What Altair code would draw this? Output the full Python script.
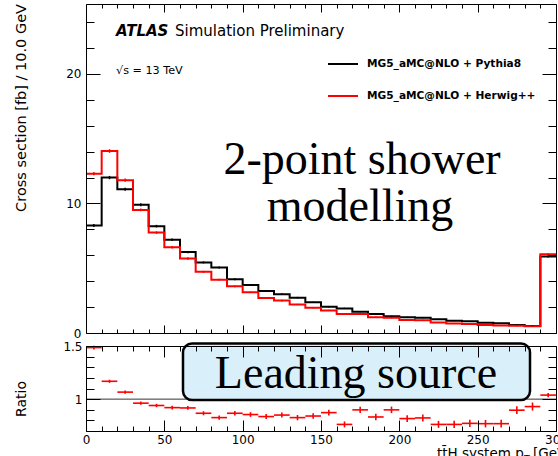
import altair as alt
import pandas as pd

# ---- binned cross section, 10 GeV bins, last bin is the overflow ----
bin_low = [0, 10, 20, 30, 40, 50, 60, 70, 80, 90, 100, 110, 120, 130, 140,
           150, 160, 170, 180, 190, 200, 210, 220, 230, 240, 250, 260, 270, 280, 290]
pythia8 = [8.3, 12.0, 11.1, 9.9, 8.25, 7.2, 6.25, 5.45, 5.05, 4.15, 3.7, 3.25, 3.0, 2.73, 2.37,
           2.02, 1.9, 1.65, 1.47, 1.29, 1.22, 1.18, 1.06, 0.95, 0.9, 0.8, 0.75, 0.62, 0.55, 5.9]
herwig = [12.3, 14.05, 11.8, 9.5, 7.75, 6.62, 5.75, 4.72, 4.12, 3.6, 3.14, 2.7, 2.5, 2.2, 1.95,
          1.74, 1.46, 1.47, 1.22, 1.17, 1.0, 0.98, 0.81, 0.73, 0.69, 0.62, 0.58, 0.56, 0.52, 6.08]
pythia8_err = [0.12, 0.13, 0.12, 0.11, 0.1, 0.09, 0.09, 0.08, 0.08, 0.07, 0.07, 0.06, 0.06, 0.06, 0.05,
               0.05, 0.05, 0.05, 0.04, 0.04, 0.04, 0.04, 0.04, 0.04, 0.03, 0.03, 0.03, 0.03, 0.03, 0.08]
herwig_err = [0.13, 0.14, 0.12, 0.11, 0.1, 0.09, 0.09, 0.08, 0.07, 0.07, 0.06, 0.06, 0.06, 0.05, 0.05,
              0.05, 0.04, 0.04, 0.04, 0.04, 0.04, 0.04, 0.03, 0.03, 0.03, 0.03, 0.03, 0.03, 0.03, 0.08]

# Herwig++ / Pythia8 ratio per bin
ratio = [1.485, 1.168, 1.066, 0.962, 0.94, 0.92, 0.917, 0.867, 0.826, 0.867, 0.855, 0.836, 0.85, 0.826, 0.841,
         0.873, 0.762, 0.899, 0.832, 0.899, 0.817, 0.823, 0.762, 0.762, 0.772, 0.769, 0.769, 0.896, 0.93, 1.038]
ratio_err = [0.018, 0.015, 0.015, 0.016, 0.016, 0.017, 0.018, 0.019, 0.02, 0.021, 0.022, 0.023, 0.024, 0.025, 0.026,
             0.027, 0.028, 0.029, 0.03, 0.031, 0.032, 0.033, 0.033, 0.034, 0.035, 0.035, 0.036, 0.037, 0.038, 0.02]

gen_names = ["MG5_aMC@NLO + Pythia8", "MG5_aMC@NLO + Herwig++"]
gen_colors = ["#000000", "#ff0000"]
bin_width = 10

# axis ticks and labels
x_ticks = [0, 10, 20, 30, 40, 50, 60, 70, 80, 90, 100, 110, 120, 130, 140, 150,
           160, 170, 180, 190, 200, 210, 220, 230, 240, 250, 260, 270, 280, 290, 300]
x_labels = [0, 50, 100, 150, 200, 250, 300]
y_upper_ticks = [0, 2, 4, 6, 8, 10, 12, 14, 16, 18, 20, 22, 24]
y_upper_labels = [0, 10, 20]
y_ratio_ticks = [0.7, 0.8, 0.9, 1.0, 1.1, 1.2, 1.3, 1.4, 1.5]
y_ratio_labels = [1, 1.5]
unity = [1.0]

# ---- tables ----
bins = pd.DataFrame({
    "lo": bin_low,
    "hi": [b + bin_width for b in bin_low],
    "mid": [b + bin_width / 2 for b in bin_low],
    "p_lo": [v - e for v, e in zip(pythia8, pythia8_err)],
    "p_hi": [v + e for v, e in zip(pythia8, pythia8_err)],
    "h_lo": [v - e for v, e in zip(herwig, herwig_err)],
    "h_hi": [v + e for v, e in zip(herwig, herwig_err)],
    "ratio": ratio,
    "r_lo": [v - e for v, e in zip(ratio, ratio_err)],
    "r_hi": [v + e for v, e in zip(ratio, ratio_err)],
})

step_rows = []
for name, vals in zip(gen_names, [pythia8, herwig]):
    for lo, v in zip(bin_low, vals):
        step_rows.append({"edge": lo, "xsec": v, "gen": name})
    step_rows.append({"edge": bin_low[-1] + bin_width, "xsec": vals[-1], "gen": name})
steps = pd.DataFrame(step_rows)
unity_df = pd.DataFrame({"unity": unity})
one = pd.DataFrame({"k": [0]})

# ---- geometry: one plot area holding both pads ----
W, H = 470, 427
UPPER_BOTTOM = 329
RATIO_TOP, RATIO_BOTTOM = 342, 427
FONT = "DejaVu Sans"
SERIF = "Liberation Serif"

xs = alt.Scale(domain=[0, 300], nice=False, zero=False)
yu = alt.Scale(domain=[0, 25.4], range=[UPPER_BOTTOM, 0], nice=False, zero=False)
yr = alt.Scale(domain=[0.7, 1.5], range=[RATIO_BOTTOM, RATIO_TOP], nice=False, zero=False)


def frame_axis(orient, offset, values, major_test, major, minor):
    return alt.Axis(orient=orient, offset=offset, values=values, labels=False, ticks=True,
                    tickSize={"condition": {"test": major_test, "value": major}, "value": minor},
                    tickColor="black", tickWidth=1, domain=True, domainColor="black",
                    domainWidth=1, grid=False, title=None, zindex=1)


def label_axis(orient, values, fmt, padding):
    return alt.Axis(orient=orient, values=values, format=fmt, labels=True, ticks=False, tickSize=0,
                    domain=False, grid=False, title=None, labelFont=FONT, labelFontSize=12,
                    labelColor="black", labelPadding=padding, labelFlush=False,
                    labelOverlap=False, zindex=1)


X_MAJ = "datum.value % 50 === 0"
YU_MAJ = "datum.value % 10 === 0"
YR_MAJ = "abs(datum.value * 2 - round(datum.value * 2)) < 0.001"

# upper pad: step histograms
hist_lines = alt.Chart(steps).mark_line(interpolate="step-after", strokeWidth=2).encode(
    x=alt.X("edge:Q", scale=xs, axis=frame_axis("top", -UPPER_BOTTOM, x_ticks, X_MAJ, 8, 4)),
    y=alt.Y("xsec:Q", scale=yu, axis=label_axis("left", y_upper_labels, "d", 5)),
    color=alt.Color("gen:N", scale=alt.Scale(domain=gen_names, range=gen_colors),
                    legend=alt.Legend(title=None, orient="none", legendX=241, legendY=44,
                                      symbolType="stroke", symbolSize=900, symbolStrokeWidth=2,
                                      labelFont=FONT, labelFontWeight="bold", labelFontSize=10.6,
                                      labelColor="black", labelOffset=8, labelLimit=400,
                                      rowPadding=10)),
)

pythia_err_bars = alt.Chart(bins).mark_rule(color="#000000", strokeWidth=1.5).encode(
    x=alt.X("mid:Q", scale=xs, axis=frame_axis("bottom", -H, x_ticks, X_MAJ, 8, 4)),
    y=alt.Y("p_lo:Q", scale=yu, axis=frame_axis("right", -W, y_upper_ticks, YU_MAJ, 14, 8)),
    y2="p_hi:Q",
)

herwig_err_bars = alt.Chart(bins).mark_rule(color="#ff0000", strokeWidth=1.5).encode(
    x=alt.X("mid:Q", scale=xs, axis=frame_axis("top", -H, x_ticks, X_MAJ, 11, 5)),
    y=alt.Y("h_lo:Q", scale=yu, axis=frame_axis("left", -W, y_upper_ticks, YU_MAJ, 14, 8)),
    y2="h_hi:Q",
)

# ratio pad
unity_line = alt.Chart(unity_df).mark_rule(color="#333333", strokeWidth=1).encode(
    y=alt.Y("unity:Q", scale=yr, axis=frame_axis("left", -W, y_ratio_ticks, YR_MAJ, 14, 8)),
)

ratio_h = alt.Chart(bins).mark_rule(color="#ff0000", strokeWidth=1.6).encode(
    x=alt.X("lo:Q", scale=xs, axis=label_axis("bottom", x_labels, "d", 3)),
    x2="hi:Q",
    y=alt.Y("ratio:Q", scale=yr, axis=label_axis("left", y_ratio_labels, "~g", 4)),
)

ratio_v = alt.Chart(bins).mark_rule(color="#ff0000", strokeWidth=1.6).encode(
    x=alt.X("mid:Q", scale=xs, axis=frame_axis("bottom", RATIO_TOP - H, x_ticks, X_MAJ, 11, 5)),
    y=alt.Y("r_lo:Q", scale=yr, axis=frame_axis("right", -W, y_ratio_ticks, YR_MAJ, 14, 8)),
    y2="r_hi:Q",
)


def label(text, x, y, size, **kw):
    return alt.Chart(one).mark_text(text=text, fontSize=size, color="black",
                                    **{"font": FONT, "align": "left", "baseline": "alphabetic", **kw}
                                    ).encode(x=alt.value(x), y=alt.value(y))


atlas = label("ATLAS", 30, 32, 15, fontWeight="bold", fontStyle="italic")
sim = label("Simulation Preliminary", 89, 32, 15)
energy = label("√s = 13 TeV", 30, 70, 11.2)

y_title = label("Cross section [fb] / 10.0 GeV", -60, 0, 14.5, angle=270, align="right")
r_title = label("Ratio", -60, 395, 14, angle=270, align="center")
x_title = label("tt̄H system p", 351, 454, 13.5)
x_title_sub = label("T", 438, 458, 9.5)
x_title_unit = label("[GeV]", 447, 454, 13.5)

shower1 = label("2-point shower", 276, 170, 46, font=SERIF, align="center")
shower2 = label("modelling", 274, 217, 46, font=SERIF, align="center")

box = alt.Chart(one).mark_rect(fill="#d9f0fa", stroke="black", strokeWidth=2.5, cornerRadius=9).encode(
    x=alt.value(97), x2=alt.value(444), y=alt.value(339.5), y2=alt.value(396),
)
box_text = label("Leading source", 270, 384, 46, font=SERIF, align="center")

chart = alt.layer(
    hist_lines, pythia_err_bars, herwig_err_bars,
    unity_line, ratio_h, ratio_v,
    atlas, sim, energy, y_title, r_title, x_title, x_title_sub, x_title_unit,
    shower1, shower2, box, box_text,
).resolve_scale(
    y="independent"
).resolve_axis(
    x="independent", y="independent"
).properties(
    width=W, height=H,
    padding={"left": 86, "top": 4, "right": 2, "bottom": 25},
    autosize=alt.AutoSizeParams(type="none"),
    background="white",
).configure_view(stroke=None)

chart.save("out.html", embed_options={"renderer": "svg", "actions": False})
